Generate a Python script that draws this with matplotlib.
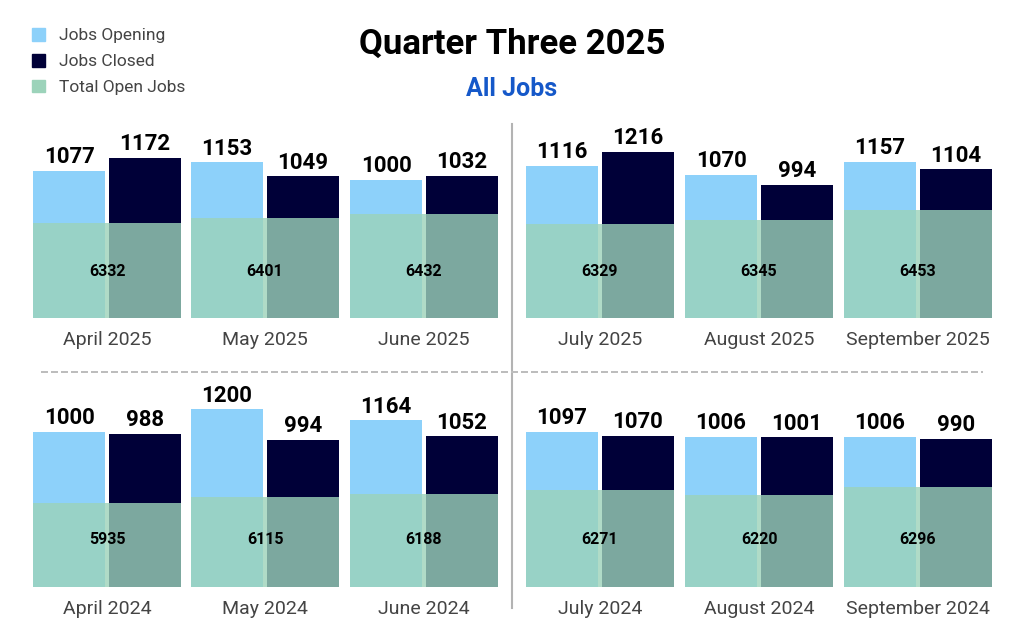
import matplotlib.pyplot as plt
from matplotlib.patches import Patch
from matplotlib.lines import Line2D

plt.rcParams['font.family'] = ['Roboto', 'DejaVu Sans']

# data
months_2025 = ['April 2025', 'May 2025', 'June 2025', 'July 2025', 'August 2025', 'September 2025']
opened_2025 = [1077, 1153, 1000, 1116, 1070, 1157]
closed_2025 = [1172, 1049, 1032, 1216, 994, 1104]
total_2025 = [6332, 6401, 6432, 6329, 6345, 6453]

months_2024 = ['April 2024', 'May 2024', 'June 2024', 'July 2024', 'August 2024', 'September 2024']
opened_2024 = [1000, 1200, 1164, 1097, 1006, 1006]
closed_2024 = [988, 994, 1052, 1070, 1001, 990]
total_2024 = [5935, 6115, 6188, 6271, 6220, 6296]

# every month in the original is its own small chart with its own scale
scale_top_2025 = [1465, 1481, 1449, 1466, 1494, 1485]
total_top_2025 = [13330, 12854, 12370, 13420, 12940, 11994]
scale_top_2024 = [1290, 1351, 1398, 1418, 1338, 1340]
total_top_2024 = [14130, 13650, 13250, 12890, 13520, 12554]

c_open = '#8dd1fa'
c_closed = '#000038'
c_total = '#9cd3ba'

W, H = 1024, 640
fig = plt.figure(figsize=(W / 100, H / 100), dpi=100)

panel_left = [33, 191, 350, 526, 685, 844]
panel_w = 148
panel_h = 200


def add_panel(left, bottom, month, opened, closed, total, top1, top2):
    ax = fig.add_axes([left / W, 1 - bottom / H, panel_w / W, panel_h / H])
    ax.bar([0, 1], [opened, closed], width=0.95, color=[c_open, c_closed])
    ax.set_xlim(-0.475, 1.475)
    ax.set_ylim(0, top1)
    for x, v in zip([0, 1], [opened, closed]):
        ax.annotate(str(v), (x, v), xytext=(0, 2), textcoords='offset points',
                    ha='center', va='bottom', fontsize=16, fontweight='bold')
    ax.text(0.5, -0.11, month, transform=ax.transAxes, ha='center', va='center',
            fontsize=14, fontweight='normal', color='#444444')

    ax2 = ax.twinx()
    ax2.bar(0.5, total, width=1.95, color=c_total, alpha=0.8)
    ax2.set_ylim(0, top2)
    ax2.text(0.5, 0.235, str(total), transform=ax2.transAxes, ha='center', va='center',
             fontsize=11.5, fontweight='bold')
    ax.axis('off')
    ax2.axis('off')


for i in range(6):
    add_panel(panel_left[i], 318, months_2025[i], opened_2025[i], closed_2025[i],
              total_2025[i], scale_top_2025[i], total_top_2025[i])
    add_panel(panel_left[i], 587, months_2024[i], opened_2024[i], closed_2024[i],
              total_2024[i], scale_top_2024[i], total_top_2024[i])

# separators
fig.add_artist(Line2D([511.7 / W, 511.7 / W], [1 - 124 / H, 1 - 608 / H],
                      color='#b3b3b3', lw=1.5))
fig.add_artist(Line2D([41 / W, 983 / W], [1 - 371.7 / H, 1 - 371.7 / H],
                      color='#bdbdbd', lw=1.44, linestyle=(0, (3.5, 1.5))))

fig.text(0.5, 1 - 44.7 / H, 'Quarter Three 2025', ha='center', va='center',
         fontsize=25, fontweight='bold', color='black')
fig.text(0.5, 1 - 88.5 / H, 'All Jobs', ha='center', va='center',
         fontsize=18, fontweight='bold', color='#1558c9')

handles = [Patch(color=c_open, label='Jobs Opening'),
           Patch(color=c_closed, label='Jobs Closed'),
           Patch(color=c_total, label='Total Open Jobs')]
fig.legend(handles=handles, loc='upper left', bbox_to_anchor=(32 / W, 1 - 28 / H),
           frameon=False, handlelength=0.75, handleheight=0.75,
           handletextpad=0.8, labelspacing=0.6, borderpad=0, borderaxespad=0,
           labelcolor='#444444', prop={'weight': 'normal', 'size': 12.5})

fig.savefig('out.png', dpi=100)
